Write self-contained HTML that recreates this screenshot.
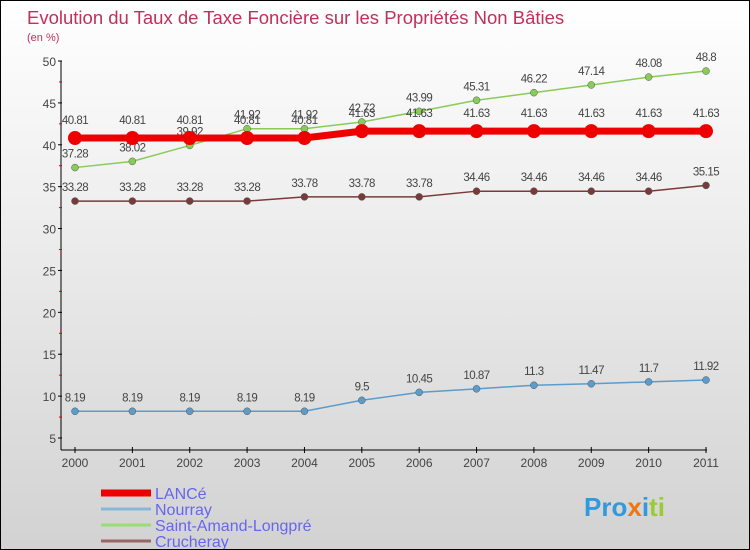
<!DOCTYPE html>
<html><head><meta charset="utf-8"><style>
html,body{margin:0;padding:0;}
body{width:750px;height:550px;overflow:hidden;font-family:"Liberation Sans",sans-serif;}
#wrap{position:relative;width:748px;height:548px;border:1px solid #000;background:linear-gradient(#ffffff,#f2f2f2 30%,#d2d2d2);}
</style></head><body>
<div id="wrap">
<svg id="chart" width="748" height="548" style="position:absolute;left:0;top:0">
<text x="26" y="23" font-size="18.5" fill="#c0305a">Evolution du Taux de Taxe Foncière sur les Propriétés Non Bâties</text>
<text x="26" y="40" font-size="11" fill="#c0305a">(en %)</text>
</svg>
</div>
<script>
const years=["2000","2001","2002","2003","2004","2005","2006","2007","2008","2009","2010","2011"];
const lance=[40.81,40.81,40.81,40.81,40.81,41.63,41.63,41.63,41.63,41.63,41.63,41.63];
const nourray=[8.19,8.19,8.19,8.19,8.19,9.5,10.45,10.87,11.3,11.47,11.7,11.92];
const saintAmand=[37.28,38.02,39.92,41.92,41.92,42.72,43.99,45.31,46.22,47.14,48.08,48.8];
const crucheray=[33.28,33.28,33.28,33.28,33.78,33.78,33.78,34.46,34.46,34.46,34.46,35.15];
const yTicks=[5,10,15,20,25,30,35,40,45,50];
const seriesNames=["LANCé","Nourray","Saint-Amand-Longpré","Crucheray"];

const NS="http://www.w3.org/2000/svg";
const svg=document.getElementById('chart');
const x=i=>74+i*(631/11);
const y=v=>60+(50-v)*(377/45);
function el(t,a,p){const e=document.createElementNS(NS,t);for(const k in a)e.setAttribute(k,a[k]);(p||svg).appendChild(e);return e;}

const ax=el('g',{});


el('line',{x1:60,y1:60,x2:60,y2:449,stroke:'#000','stroke-width':1},ax);
el('line',{x1:60,y1:449,x2:706,y2:449,stroke:'#000','stroke-width':1},ax);
yTicks.forEach(v=>{
  el('line',{x1:57,y1:y(v),x2:61,y2:y(v),stroke:'#000'},ax);
  if(v>5) el('line',{x1:58,y1:y(v-2.5),x2:61,y2:y(v-2.5),stroke:'#d00'},ax);
  const t=el('text',{x:55,y:y(v)+5,'font-size':12,fill:'#444','text-anchor':'end'},ax);
  t.textContent=v;
  
  
});
years.forEach((yr,i)=>{
  el('line',{x1:x(i),y1:446,x2:x(i),y2:452,stroke:'#000'},ax);
  const t=el('text',{x:x(i),y:466,'font-size':12,fill:'#444','text-anchor':'middle'},ax);
  t.textContent=yr;
  
  
});

function series(data,color,w,r,name,labelOff){
  const g=el('g',{});
  
  
  el('polyline',{points:data.map((v,i)=>x(i)+','+y(v)).join(' '),fill:'none',stroke:color,'stroke-width':w},g);
  data.forEach((v,i)=>{
    const c=el('circle',{cx:x(i),cy:y(v),r:r,fill:color,stroke:r<6?'#555':'none','stroke-width':0.5},g);
    
    
    const t=el('text',{x:x(i),y:y(v)+labelOff,'font-size':11.5,fill:'#444','text-anchor':'middle','letter-spacing':'-0.5'},g);
    t.textContent=v;
    
    
  });
}
series(crucheray,'#7a3a3a',1.5,3.5,'crucheray-series',-10);
series(nourray,'#5a9ccc',1.5,3.5,'nourray-series',-10);
series(saintAmand,'#88cc55',1.5,3.5,'saint-amand-series',-10);
series(lance,'#ee0000',7,7,'lance-series',-14);

const lg=el('g',{});


const lc=['#ee0000','#88b8d8','#99dd77','#996666'];
const lw=[7,3,3,3];
seriesNames.forEach((n,i)=>{
  const yy=492+i*16;
  el('line',{x1:100,y1:yy,x2:150,y2:yy,stroke:lc[i],'stroke-width':lw[i]},lg);
  const t=el('text',{x:154,y:yy+6,'font-size':16,fill:'#6666ee'},lg);
  t.textContent=n;
  
  
});
const logo=el('text',{x:583,y:515,'font-size':26,'font-weight':'bold',fill:'#3399dd'});
logo.innerHTML='<tspan fill="#3399dd">Pro</tspan><tspan fill="#ee7711">x</tspan><tspan fill="#3399dd">i</tspan><tspan fill="#99cc33">ti</tspan>';


</script>
</body></html>
